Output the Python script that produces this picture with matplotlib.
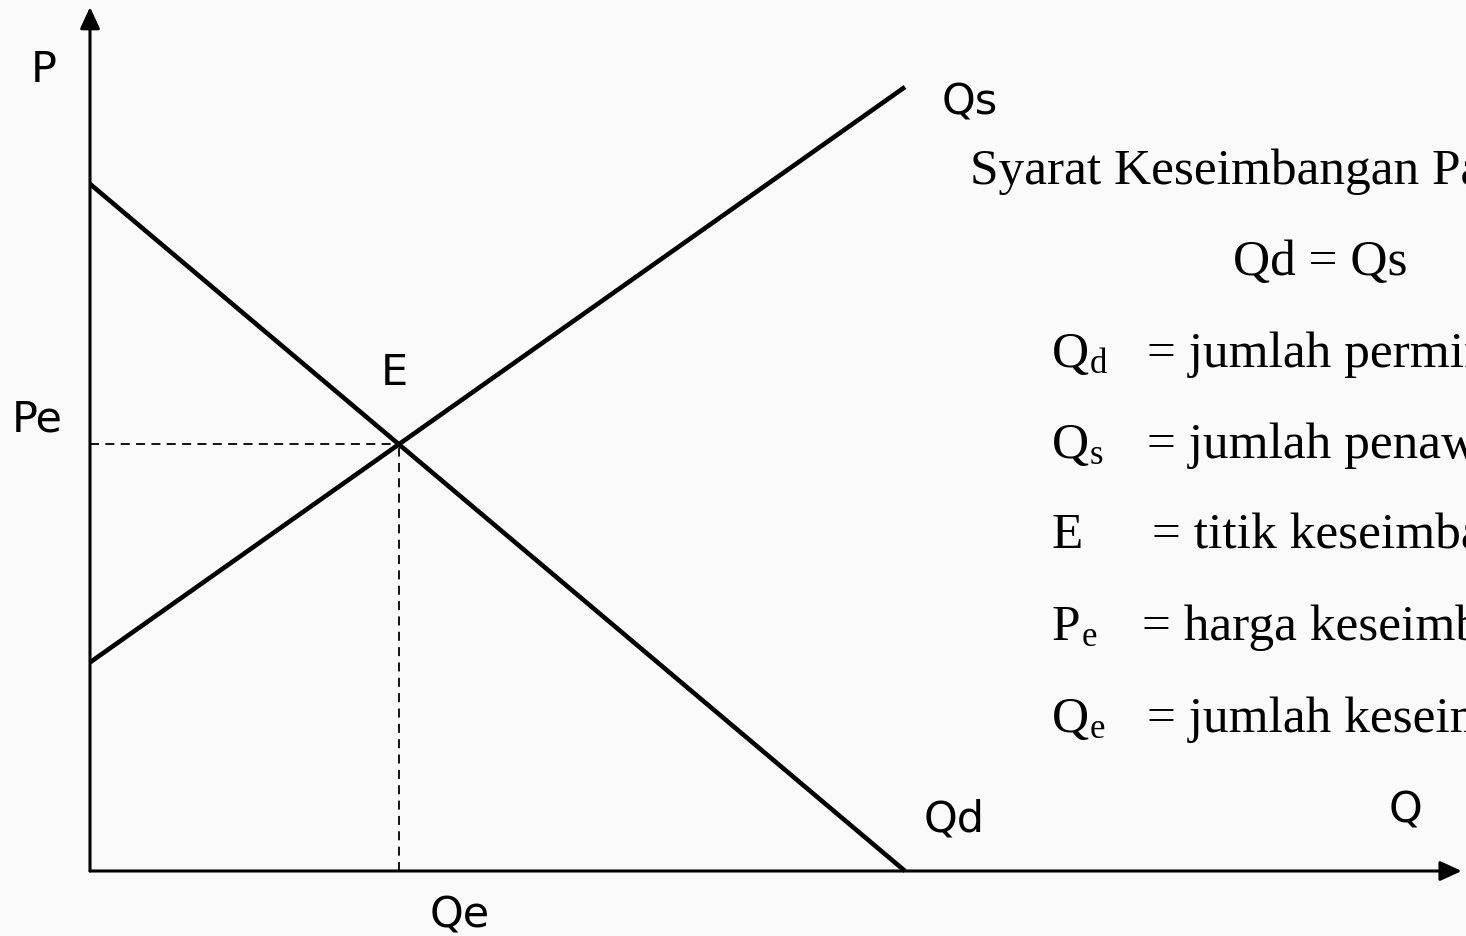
import numpy as np
import matplotlib
matplotlib.use('Agg')
import matplotlib.pyplot as plt

# kurva permintaan dan penawaran (Q, P)
q_ends = [0.0, 10.0]
demand_p = [8.43, 0.0]
supply_p = [2.56, 9.62]

# titik keseimbangan dari perpotongan kedua garis
d_slope = (demand_p[1] - demand_p[0]) / (q_ends[1] - q_ends[0])
s_slope = (supply_p[1] - supply_p[0]) / (q_ends[1] - q_ends[0])
qe = (supply_p[0] - demand_p[0]) / (d_slope - s_slope)
pe = demand_p[0] + d_slope * qe

# ujung sumbu
q_axis_max = 16.83
p_axis_max = 10.6

legend_rows = [('Q', 'd', '= jumlah permintaan'),
               ('Q', 's', '= jumlah penawaran'),
               ('E', '', '= titik keseimbangan'),
               ('P', 'e', '= harga keseimbangan'),
               ('Q', 'e', '= jumlah keseimbangan')]

W, H = 1466, 937
fig = plt.figure(figsize=(W / 100, H / 100), dpi=100)
fig.patch.set_facecolor('#fafafa')
ax = fig.add_axes([0, 0, 1, 1])
ax.set_facecolor('#fafafa')
scale = 81.5  # px per unit
ax.set_xlim(-90 / scale, (W - 90) / scale)
ax.set_ylim((872 - H) / scale, 872 / scale)
ax.axis('off')

# sumbu dengan panah
arrow = dict(arrowstyle='-|>,head_length=0.65,head_width=0.3', color='black',
             lw=2.2, mutation_scale=20, shrinkA=0, shrinkB=0)
ax.annotate('', xy=(0, p_axis_max), xytext=(0, 0), arrowprops=arrow)
ax.annotate('', xy=(q_axis_max, 0), xytext=(0, 0), arrowprops=arrow)

# garis Qd dan Qs
ax.plot(q_ends, demand_p, color='black', lw=3.3, solid_capstyle='butt')
ax.plot(q_ends, supply_p, color='black', lw=3.3, solid_capstyle='butt')

# garis putus-putus ke Pe dan Qe
ax.plot([0, qe], [pe, pe], color='black', lw=1.3, dashes=(5, 3.5))
ax.plot([qe, qe], [0, pe], color='black', lw=1.3, dashes=(5, 3.5))


def px_text(x, y, s, size, family, **kw):
    fig.text(x / W, 1 - y / H, s, fontsize=size, family=family,
             ha='left', va='baseline', **kw)


sans = 'DejaVu Sans'
serif = 'Liberation Serif'
px_text(31, 82, 'P', 31, sans)
px_text(942, 114, 'Qs', 31, sans)
px_text(381, 385, 'E', 31, sans)
px_text(12, 432, 'Pe', 31, sans)
px_text(924, 832, 'Qd', 31, sans)
px_text(430, 928, 'Qe', 31, sans)
px_text(1389, 822, 'Q', 31, sans)

px_text(970, 184, 'Syarat Keseimbangan Pasar', 37, serif)
px_text(1233, 275, 'Qd = Qs', 37, serif)

row_y = [367, 458, 548, 640, 732]
eq_x = [1147, 1147, 1152, 1142, 1147]
sub_x = [1090, 1090, 0, 1082, 1090]
for (main, sub, desc), y, ex, sx in zip(legend_rows, row_y, eq_x, sub_x):
    px_text(1052, y, main, 37, serif)
    if sub:
        px_text(sx, y + 6, sub, 25, serif)
    px_text(ex, y, desc, 37, serif)

fig.savefig('out.png', dpi=100, facecolor=fig.get_facecolor())
